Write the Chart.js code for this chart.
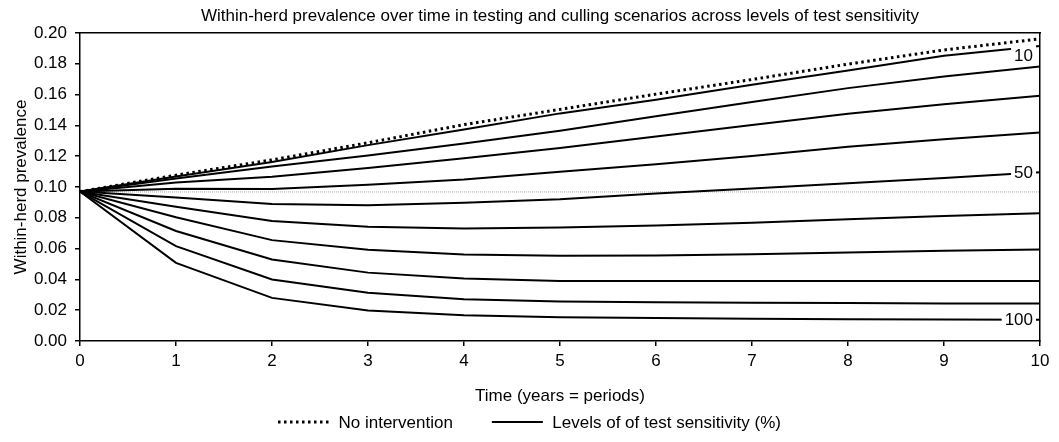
<!DOCTYPE html>
<html>
<head>
<meta charset="utf-8">
<script src="https://cdn.jsdelivr.net/npm/chart.js@4.4.1/dist/chart.umd.min.js"></script>
<style>
  html, body { margin: 0; padding: 0; background: #fff; }
  #wrap { width: 1059px; height: 442px; position: relative; }
</style>
</head>
<body>
<div id="wrap"><canvas id="c"></canvas></div>
<script>
// ---------- data ----------
const years = [0, 1, 2, 3, 4, 5, 6, 7, 8, 9, 10];
const yTickValues = [0, 0.02, 0.04, 0.06, 0.08, 0.10, 0.12, 0.14, 0.16, 0.18, 0.20];

const noIntervention = [0.0970, 0.1077, 0.1176, 0.1287, 0.1405, 0.1504, 0.1603, 0.1698, 0.1798, 0.1890, 0.1962];

const sens10  = [0.0970, 0.1068, 0.1163, 0.1272, 0.1374, 0.1478, 0.1566, 0.1664, 0.1757, 0.1852, 0.1915];
const sens20  = [0.0970, 0.1055, 0.1133, 0.1205, 0.1283, 0.1365, 0.1460, 0.1552, 0.1642, 0.1718, 0.1783];
const sens30  = [0.0970, 0.1029, 0.1067, 0.1123, 0.1186, 0.1253, 0.1328, 0.1403, 0.1475, 0.1538, 0.1592];
const sens40  = [0.0970, 0.0988, 0.0987, 0.1014, 0.1049, 0.1099, 0.1148, 0.1202, 0.1262, 0.1310, 0.1354];
const sens50  = [0.0970, 0.0932, 0.0889, 0.0882, 0.0897, 0.0920, 0.0958, 0.0991, 0.1024, 0.1058, 0.1095];
const sens60  = [0.0970, 0.0872, 0.0779, 0.0742, 0.0730, 0.0737, 0.0750, 0.0768, 0.0790, 0.0811, 0.0829];
const sens70  = [0.0970, 0.0803, 0.0655, 0.0592, 0.0562, 0.0553, 0.0555, 0.0564, 0.0575, 0.0586, 0.0594];
const sens80  = [0.0970, 0.0714, 0.0529, 0.0444, 0.0406, 0.0390, 0.0389, 0.0389, 0.0389, 0.0390, 0.0390];
const sens90  = [0.0970, 0.0616, 0.0399, 0.0313, 0.0271, 0.0256, 0.0252, 0.0249, 0.0246, 0.0244, 0.0243];
const sens100 = [0.0970, 0.0507, 0.0280, 0.0198, 0.0167, 0.0155, 0.0150, 0.0145, 0.0142, 0.0140, 0.0138];

const sensitivityLevels = ['10', '20', '30', '40', '50', '60', '70', '80', '90', '100'];
const sensitivitySeries = [sens10, sens20, sens30, sens40, sens50, sens60, sens70, sens80, sens90, sens100];
const labeledLevels = ['10', '50', '100'];

const baselinePrevalence = [0.0968, 0.0968];
const baselineYears = [0, 10];

const chartTitle = 'Within-herd prevalence over time in testing and culling scenarios across levels of test sensitivity';
const xTitle = 'Time (years = periods)';
const yTitle = 'Within-herd prevalence';
const legendLabels = ['No intervention', 'Levels of of test sensitivity (%)'];

// ---------- styling ----------
const FONT = "'Liberation Sans', Arial, sans-serif";
const FS = 17;
Chart.defaults.font.family = FONT;
Chart.defaults.font.size = FS;
Chart.defaults.color = '#000';

const toXY = (xs, ys) => xs.map((x, i) => ({ x: x, y: ys[i] }));

const datasets = [];
datasets.push({
  label: legendLabels[0],
  data: toXY(years, noIntervention),
  borderColor: '#000',
  borderWidth: 3,
  borderDash: [2.5, 3.5],
  borderCapStyle: 'butt',
  pointRadius: 0,
  tension: 0,
  fill: false
});
sensitivitySeries.forEach((s, i) => {
  datasets.push({
    label: sensitivityLevels[i],
    data: toXY(years, s),
    borderColor: '#000',
    borderWidth: 2,
    pointRadius: 0,
    tension: 0,
    fill: false
  });
});
datasets.push({
  label: 'baseline',
  data: toXY(baselineYears, baselinePrevalence),
  borderColor: '#a8a8a8',
  borderWidth: 1,
  borderDash: [1, 1],
  pointRadius: 0,
  tension: 0,
  fill: false
});

// end labels (10, 50, 100) with white background
const endLabelPlugin = {
  id: 'endLabels',
  afterDatasetsDraw(chart, args, opts) {
    const ctx = chart.ctx;
    const ys = chart.scales.y;
    const xs = chart.scales.x;
    ctx.save();
    ctx.font = FS + 'px ' + FONT;
    ctx.textAlign = 'right';
    ctx.textBaseline = 'middle';
    labeledLevels.forEach(lv => {
      const idx = sensitivityLevels.indexOf(lv);
      const s = sensitivitySeries[idx];
      const yPix = ys.getPixelForValue(s[s.length - 1]) + (opts.offsets[lv] || 0);
      const xRight = xs.getPixelForValue(years[years.length - 1]) - opts.rightGap;
      const w = ctx.measureText(lv).width;
      ctx.fillStyle = '#fff';
      ctx.fillRect(xRight - w - opts.padX, yPix - opts.boxH / 2, w + opts.padX * 2, opts.boxH);
      ctx.fillStyle = '#000';
      ctx.fillText(lv, xRight, yPix + 1);
    });
    ctx.restore();
  }
};

// custom legend
const legendPlugin = {
  id: 'customLegend',
  afterDraw(chart, args, opts) {
    const ctx = chart.ctx;
    ctx.save();
    ctx.font = FS + 'px ' + FONT;
    const items = [
      { text: legendLabels[0], dash: [2.5, 3.5], width: 3 },
      { text: legendLabels[1], dash: [], width: 2 }
    ];
    const widths = items.map(it => opts.sampleW + opts.sampleGap + ctx.measureText(it.text).width);
    const total = widths.reduce((a, b) => a + b, 0) + opts.itemGap * (items.length - 1);
    let x = (chart.width - total) / 2;
    const y = opts.y;
    items.forEach((it, i) => {
      ctx.beginPath();
      ctx.setLineDash(it.dash);
      ctx.lineWidth = it.width;
      ctx.strokeStyle = '#000';
      ctx.lineCap = 'butt';
      ctx.moveTo(x, y);
      ctx.lineTo(x + opts.sampleW, y);
      ctx.stroke();
      ctx.setLineDash([]);
      ctx.fillStyle = '#000';
      ctx.textAlign = 'left';
      ctx.textBaseline = 'middle';
      ctx.fillText(it.text, x + opts.sampleW + opts.sampleGap, y + 1);
      x += widths[i] + opts.itemGap;
    });
    ctx.restore();
  }
};

const axisGrid = { drawOnChartArea: false, drawTicks: true, tickLength: 5, color: '#000', lineWidth: 1.5 };
const axisBorder = { display: true, color: '#000', width: 1.5 };

new Chart(document.getElementById('c'), {
  type: 'line',
  data: { datasets: datasets },
  plugins: [endLabelPlugin, legendPlugin],
  options: {
    responsive: true,
    maintainAspectRatio: false,
    animation: false,
    events: [],
    layout: { padding: 0 },
    plugins: {
      legend: { display: false },
      tooltip: { enabled: false },
      title: {
        display: true,
        text: chartTitle,
        fullSize: false,
        color: '#000',
        font: { size: FS, weight: 'normal', lineHeight: 1.2 },
        padding: { top: 6, bottom: 6.6 }
      },
      endLabels: { offsets: { '10': 9 }, rightGap: 7, padX: 3, boxH: 20 },
      customLegend: { y: 422, sampleW: 51, sampleGap: 9.5, itemGap: 39 }
    },
    scales: {
      x: {
        type: 'linear',
        position: 'bottom',
        min: 0,
        max: 10,
        afterBuildTicks: s => { s.ticks = years.map(v => ({ value: v })); },
        ticks: { padding: 5, color: '#000', maxRotation: 0, autoSkip: false, callback: v => String(v) },
        grid: axisGrid,
        border: axisBorder,
        title: { display: true, text: xTitle, color: '#000', font: { size: FS, lineHeight: 1 }, padding: { top: 0, bottom: 37.5 } },
        afterFit: s => { s.height = 101; }
      },
      y: {
        type: 'linear',
        position: 'left',
        min: 0,
        max: 0.2,
        afterBuildTicks: s => { s.ticks = yTickValues.map(v => ({ value: v })); },
        ticks: { padding: 8, color: '#000', callback: v => Number(v).toFixed(2) },
        grid: axisGrid,
        border: axisBorder,
        title: { display: true, text: yTitle, color: '#000', font: { size: FS, lineHeight: 1 }, padding: { top: 13, bottom: 0 } },
        afterFit: s => { s.width = 80; }
      },
      x2: {
        type: 'linear',
        position: 'top',
        min: 0,
        max: 10,
        ticks: { display: false },
        grid: { display: false, drawTicks: false },
        border: axisBorder,
        afterFit: s => { s.height = 0; }
      },
      y2: {
        type: 'linear',
        position: 'right',
        min: 0,
        max: 0.2,
        ticks: { display: false },
        grid: { display: false, drawTicks: false },
        border: axisBorder,
        afterFit: s => { s.width = 19; }
      }
    }
  }
});
</script>
</body>
</html>
